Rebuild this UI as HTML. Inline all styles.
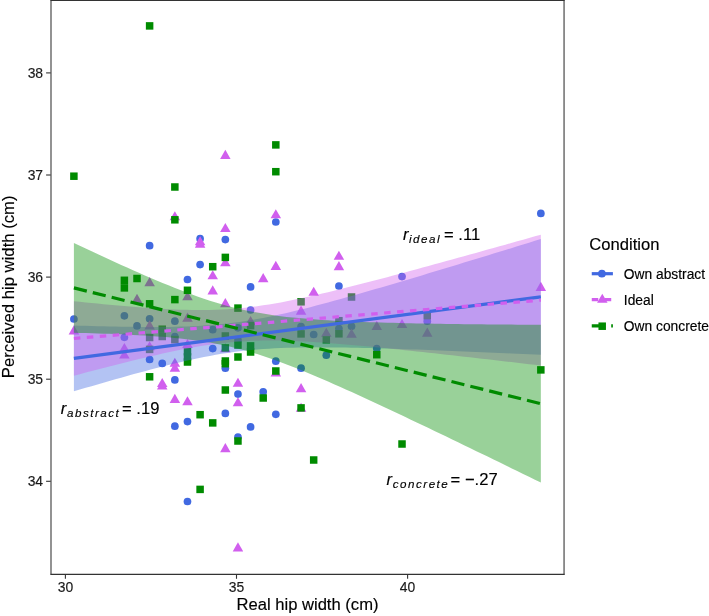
<!DOCTYPE html>
<html><head><meta charset="utf-8"><style>
html,body{margin:0;padding:0;background:#fff;}
svg{display:block;will-change:transform;}
text{font-family:"Liberation Sans",sans-serif;stroke:currentColor;stroke-width:0.15px;}
</style></head><body>
<svg width="709" height="616" viewBox="0 0 709 616">
<rect width="709" height="616" fill="#fff"/>
<defs><clipPath id="pc"><rect x="50.75" y="0" width="513.1" height="574.3"/></clipPath></defs>
<g clip-path="url(#pc)">
<circle cx="73.90" cy="319.00" r="3.85" fill="#4169E1"/>
<circle cx="124.38" cy="315.80" r="3.85" fill="#4169E1"/>
<circle cx="124.38" cy="337.30" r="3.85" fill="#4169E1"/>
<circle cx="137.00" cy="325.90" r="3.85" fill="#4169E1"/>
<circle cx="149.62" cy="245.70" r="3.85" fill="#4169E1"/>
<circle cx="149.62" cy="318.80" r="3.85" fill="#4169E1"/>
<circle cx="149.62" cy="359.50" r="3.85" fill="#4169E1"/>
<circle cx="162.24" cy="363.40" r="3.85" fill="#4169E1"/>
<circle cx="174.86" cy="321.20" r="3.85" fill="#4169E1"/>
<circle cx="174.86" cy="336.50" r="3.85" fill="#4169E1"/>
<circle cx="174.86" cy="379.90" r="3.85" fill="#4169E1"/>
<circle cx="174.86" cy="426.20" r="3.85" fill="#4169E1"/>
<circle cx="187.48" cy="279.50" r="3.85" fill="#4169E1"/>
<circle cx="187.48" cy="421.60" r="3.85" fill="#4169E1"/>
<circle cx="187.48" cy="501.50" r="3.85" fill="#4169E1"/>
<circle cx="200.10" cy="238.70" r="3.85" fill="#4169E1"/>
<circle cx="200.10" cy="264.60" r="3.85" fill="#4169E1"/>
<circle cx="212.72" cy="329.70" r="3.85" fill="#4169E1"/>
<circle cx="212.72" cy="348.60" r="3.85" fill="#4169E1"/>
<circle cx="225.34" cy="239.60" r="3.85" fill="#4169E1"/>
<circle cx="225.34" cy="368.20" r="3.85" fill="#4169E1"/>
<circle cx="225.34" cy="413.40" r="3.85" fill="#4169E1"/>
<circle cx="237.96" cy="327.80" r="3.85" fill="#4169E1"/>
<circle cx="237.96" cy="340.10" r="3.85" fill="#4169E1"/>
<circle cx="237.96" cy="394.10" r="3.85" fill="#4169E1"/>
<circle cx="237.96" cy="437.00" r="3.85" fill="#4169E1"/>
<circle cx="250.58" cy="286.90" r="3.85" fill="#4169E1"/>
<circle cx="250.58" cy="310.00" r="3.85" fill="#4169E1"/>
<circle cx="250.58" cy="426.90" r="3.85" fill="#4169E1"/>
<circle cx="263.20" cy="391.80" r="3.85" fill="#4169E1"/>
<circle cx="275.82" cy="222.00" r="3.85" fill="#4169E1"/>
<circle cx="275.82" cy="361.20" r="3.85" fill="#4169E1"/>
<circle cx="275.82" cy="414.30" r="3.85" fill="#4169E1"/>
<circle cx="301.06" cy="326.50" r="3.85" fill="#4169E1"/>
<circle cx="301.06" cy="368.20" r="3.85" fill="#4169E1"/>
<circle cx="313.68" cy="334.50" r="3.85" fill="#4169E1"/>
<circle cx="326.30" cy="355.20" r="3.85" fill="#4169E1"/>
<circle cx="338.92" cy="286.00" r="3.85" fill="#4169E1"/>
<circle cx="338.92" cy="328.50" r="3.85" fill="#4169E1"/>
<circle cx="351.54" cy="326.30" r="3.85" fill="#4169E1"/>
<circle cx="376.78" cy="348.60" r="3.85" fill="#4169E1"/>
<circle cx="402.02" cy="276.60" r="3.85" fill="#4169E1"/>
<circle cx="427.26" cy="321.20" r="3.85" fill="#4169E1"/>
<circle cx="540.84" cy="213.40" r="3.85" fill="#4169E1"/>
<polygon points="73.90,325.34 79.15,334.43 68.65,334.43" fill="#D15FEE"/>
<polygon points="124.38,342.94 129.63,352.03 119.13,352.03" fill="#D15FEE"/>
<polygon points="124.38,349.44 129.63,358.53 119.13,358.53" fill="#D15FEE"/>
<polygon points="137.00,293.84 142.25,302.93 131.75,302.93" fill="#D15FEE"/>
<polygon points="149.62,277.04 154.87,286.13 144.37,286.13" fill="#D15FEE"/>
<polygon points="149.62,320.34 154.87,329.43 144.37,329.43" fill="#D15FEE"/>
<polygon points="149.62,341.14 154.87,350.23 144.37,350.23" fill="#D15FEE"/>
<polygon points="162.24,377.94 167.49,387.03 156.99,387.03" fill="#D15FEE"/>
<polygon points="162.24,380.34 167.49,389.43 156.99,389.43" fill="#D15FEE"/>
<polygon points="174.86,211.24 180.11,220.33 169.61,220.33" fill="#D15FEE"/>
<polygon points="174.86,357.64 180.11,366.73 169.61,366.73" fill="#D15FEE"/>
<polygon points="174.86,362.54 180.11,371.63 169.61,371.63" fill="#D15FEE"/>
<polygon points="174.86,393.84 180.11,402.93 169.61,402.93" fill="#D15FEE"/>
<polygon points="187.48,291.14 192.73,300.23 182.23,300.23" fill="#D15FEE"/>
<polygon points="187.48,312.54 192.73,321.63 182.23,321.63" fill="#D15FEE"/>
<polygon points="187.48,338.94 192.73,348.03 182.23,348.03" fill="#D15FEE"/>
<polygon points="187.48,396.14 192.73,405.23 182.23,405.23" fill="#D15FEE"/>
<polygon points="200.10,236.24 205.35,245.33 194.85,245.33" fill="#D15FEE"/>
<polygon points="200.10,238.74 205.35,247.83 194.85,247.83" fill="#D15FEE"/>
<polygon points="212.72,270.24 217.97,279.33 207.47,279.33" fill="#D15FEE"/>
<polygon points="212.72,285.34 217.97,294.43 207.47,294.43" fill="#D15FEE"/>
<polygon points="225.34,149.84 230.59,158.93 220.09,158.93" fill="#D15FEE"/>
<polygon points="225.34,222.94 230.59,232.03 220.09,232.03" fill="#D15FEE"/>
<polygon points="225.34,257.14 230.59,266.23 220.09,266.23" fill="#D15FEE"/>
<polygon points="225.34,298.04 230.59,307.13 220.09,307.13" fill="#D15FEE"/>
<polygon points="225.34,343.14 230.59,352.23 220.09,352.23" fill="#D15FEE"/>
<polygon points="225.34,443.04 230.59,452.13 220.09,452.13" fill="#D15FEE"/>
<polygon points="237.96,377.74 243.21,386.83 232.71,386.83" fill="#D15FEE"/>
<polygon points="237.96,397.14 243.21,406.23 232.71,406.23" fill="#D15FEE"/>
<polygon points="237.96,542.34 243.21,551.43 232.71,551.43" fill="#D15FEE"/>
<polygon points="250.58,315.94 255.83,325.03 245.33,325.03" fill="#D15FEE"/>
<polygon points="263.20,273.04 268.45,282.13 257.95,282.13" fill="#D15FEE"/>
<polygon points="275.82,209.14 281.07,218.23 270.57,218.23" fill="#D15FEE"/>
<polygon points="275.82,260.84 281.07,269.93 270.57,269.93" fill="#D15FEE"/>
<polygon points="275.82,367.44 281.07,376.53 270.57,376.53" fill="#D15FEE"/>
<polygon points="301.06,305.54 306.31,314.63 295.81,314.63" fill="#D15FEE"/>
<polygon points="301.06,383.04 306.31,392.13 295.81,392.13" fill="#D15FEE"/>
<polygon points="301.06,402.74 306.31,411.83 295.81,411.83" fill="#D15FEE"/>
<polygon points="313.68,286.74 318.93,295.83 308.43,295.83" fill="#D15FEE"/>
<polygon points="326.30,327.64 331.55,336.73 321.05,336.73" fill="#D15FEE"/>
<polygon points="338.92,250.74 344.17,259.83 333.67,259.83" fill="#D15FEE"/>
<polygon points="338.92,261.04 344.17,270.13 333.67,270.13" fill="#D15FEE"/>
<polygon points="351.54,328.54 356.79,337.63 346.29,337.63" fill="#D15FEE"/>
<polygon points="376.78,320.84 382.03,329.93 371.53,329.93" fill="#D15FEE"/>
<polygon points="402.02,318.94 407.27,328.03 396.77,328.03" fill="#D15FEE"/>
<polygon points="427.26,327.54 432.51,336.63 422.01,336.63" fill="#D15FEE"/>
<polygon points="540.84,281.84 546.09,290.93 535.59,290.93" fill="#D15FEE"/>
<rect x="70.15" y="172.45" width="7.50" height="7.50" fill="#008B00"/>
<rect x="120.63" y="276.55" width="7.50" height="7.50" fill="#008B00"/>
<rect x="120.63" y="284.15" width="7.50" height="7.50" fill="#008B00"/>
<rect x="133.25" y="274.75" width="7.50" height="7.50" fill="#008B00"/>
<rect x="145.87" y="22.15" width="7.50" height="7.50" fill="#008B00"/>
<rect x="145.87" y="300.05" width="7.50" height="7.50" fill="#008B00"/>
<rect x="145.87" y="333.75" width="7.50" height="7.50" fill="#008B00"/>
<rect x="145.87" y="345.65" width="7.50" height="7.50" fill="#008B00"/>
<rect x="145.87" y="373.05" width="7.50" height="7.50" fill="#008B00"/>
<rect x="158.49" y="325.45" width="7.50" height="7.50" fill="#008B00"/>
<rect x="158.49" y="332.75" width="7.50" height="7.50" fill="#008B00"/>
<rect x="171.11" y="183.25" width="7.50" height="7.50" fill="#008B00"/>
<rect x="171.11" y="216.05" width="7.50" height="7.50" fill="#008B00"/>
<rect x="171.11" y="295.85" width="7.50" height="7.50" fill="#008B00"/>
<rect x="171.11" y="335.85" width="7.50" height="7.50" fill="#008B00"/>
<rect x="183.73" y="286.55" width="7.50" height="7.50" fill="#008B00"/>
<rect x="183.73" y="347.95" width="7.50" height="7.50" fill="#008B00"/>
<rect x="183.73" y="353.15" width="7.50" height="7.50" fill="#008B00"/>
<rect x="183.73" y="358.25" width="7.50" height="7.50" fill="#008B00"/>
<rect x="196.35" y="410.95" width="7.50" height="7.50" fill="#008B00"/>
<rect x="196.35" y="485.65" width="7.50" height="7.50" fill="#008B00"/>
<rect x="208.97" y="262.95" width="7.50" height="7.50" fill="#008B00"/>
<rect x="208.97" y="419.15" width="7.50" height="7.50" fill="#008B00"/>
<rect x="221.59" y="253.65" width="7.50" height="7.50" fill="#008B00"/>
<rect x="221.59" y="332.25" width="7.50" height="7.50" fill="#008B00"/>
<rect x="221.59" y="344.15" width="7.50" height="7.50" fill="#008B00"/>
<rect x="221.59" y="357.25" width="7.50" height="7.50" fill="#008B00"/>
<rect x="221.59" y="359.95" width="7.50" height="7.50" fill="#008B00"/>
<rect x="221.59" y="386.25" width="7.50" height="7.50" fill="#008B00"/>
<rect x="234.21" y="304.35" width="7.50" height="7.50" fill="#008B00"/>
<rect x="234.21" y="341.35" width="7.50" height="7.50" fill="#008B00"/>
<rect x="234.21" y="353.25" width="7.50" height="7.50" fill="#008B00"/>
<rect x="234.21" y="437.25" width="7.50" height="7.50" fill="#008B00"/>
<rect x="246.83" y="321.85" width="7.50" height="7.50" fill="#008B00"/>
<rect x="246.83" y="342.15" width="7.50" height="7.50" fill="#008B00"/>
<rect x="246.83" y="348.25" width="7.50" height="7.50" fill="#008B00"/>
<rect x="259.45" y="394.25" width="7.50" height="7.50" fill="#008B00"/>
<rect x="272.07" y="141.15" width="7.50" height="7.50" fill="#008B00"/>
<rect x="272.07" y="167.95" width="7.50" height="7.50" fill="#008B00"/>
<rect x="272.07" y="367.25" width="7.50" height="7.50" fill="#008B00"/>
<rect x="297.31" y="298.05" width="7.50" height="7.50" fill="#008B00"/>
<rect x="297.31" y="330.15" width="7.50" height="7.50" fill="#008B00"/>
<rect x="297.31" y="404.15" width="7.50" height="7.50" fill="#008B00"/>
<rect x="309.93" y="456.25" width="7.50" height="7.50" fill="#008B00"/>
<rect x="322.55" y="336.15" width="7.50" height="7.50" fill="#008B00"/>
<rect x="335.17" y="316.95" width="7.50" height="7.50" fill="#008B00"/>
<rect x="335.17" y="330.05" width="7.50" height="7.50" fill="#008B00"/>
<rect x="347.79" y="293.25" width="7.50" height="7.50" fill="#008B00"/>
<rect x="373.03" y="350.95" width="7.50" height="7.50" fill="#008B00"/>
<rect x="398.27" y="440.25" width="7.50" height="7.50" fill="#008B00"/>
<rect x="423.51" y="311.85" width="7.50" height="7.50" fill="#008B00"/>
<rect x="537.09" y="366.15" width="7.50" height="7.50" fill="#008B00"/>
<polygon points="73.90,325.47 79.81,325.65 85.72,325.83 91.63,326.00 97.54,326.16 103.45,326.31 109.36,326.45 115.28,326.58 121.19,326.69 127.10,326.79 133.01,326.87 138.92,326.93 144.83,326.97 150.74,326.99 156.65,326.98 162.56,326.95 168.47,326.88 174.38,326.77 180.29,326.62 186.20,326.43 192.12,326.19 198.03,325.89 203.94,325.54 209.85,325.11 215.76,324.62 221.67,324.06 227.58,323.42 233.49,322.70 239.40,321.90 245.31,321.03 251.22,320.07 257.13,319.04 263.04,317.94 268.96,316.77 274.87,315.54 280.78,314.26 286.69,312.92 292.60,311.53 298.51,310.10 304.42,308.63 310.33,307.13 316.24,305.59 322.15,304.03 328.06,302.44 333.97,300.84 339.88,299.21 345.79,297.56 351.71,295.90 357.62,294.22 363.53,292.53 369.44,290.83 375.35,289.12 381.26,287.40 387.17,285.66 393.08,283.93 398.99,282.18 404.90,280.42 410.81,278.67 416.72,276.90 422.63,275.13 428.55,273.35 434.46,271.57 440.37,269.79 446.28,268.00 452.19,266.21 458.10,264.42 464.01,262.62 469.92,260.82 475.83,259.01 481.74,257.21 487.65,255.40 493.56,253.59 499.47,251.78 505.39,249.96 511.30,248.15 517.21,246.33 523.12,244.51 529.03,242.69 534.94,240.86 540.85,239.04 540.85,354.77 534.94,354.50 529.03,354.23 523.12,353.97 517.21,353.71 511.30,353.44 505.39,353.18 499.47,352.93 493.56,352.67 487.65,352.42 481.74,352.17 475.83,351.92 469.92,351.67 464.01,351.43 458.10,351.19 452.19,350.95 446.28,350.71 440.37,350.48 434.46,350.26 428.55,350.03 422.63,349.81 416.72,349.60 410.81,349.39 404.90,349.19 398.99,348.99 393.08,348.80 387.17,348.62 381.26,348.45 375.35,348.28 369.44,348.12 363.53,347.98 357.62,347.85 351.71,347.73 345.79,347.62 339.88,347.53 333.97,347.46 328.06,347.41 322.15,347.38 316.24,347.37 310.33,347.40 304.42,347.45 298.51,347.54 292.60,347.67 286.69,347.84 280.78,348.05 274.87,348.32 268.96,348.65 263.04,349.04 257.13,349.49 251.22,350.02 245.31,350.62 239.40,351.30 233.49,352.06 227.58,352.90 221.67,353.82 215.76,354.81 209.85,355.88 203.94,357.01 198.03,358.21 192.12,359.47 186.20,360.79 180.29,362.15 174.38,363.56 168.47,365.01 162.56,366.50 156.65,368.02 150.74,369.57 144.83,371.14 138.92,372.74 133.01,374.36 127.10,376.00 121.19,377.65 115.28,379.32 109.36,381.01 103.45,382.70 97.54,384.41 91.63,386.13 85.72,387.85 79.81,389.59 73.90,391.33" fill="#4169E1" fill-opacity="0.4"/>
<polygon points="73.90,301.25 79.81,301.85 85.72,302.45 91.63,303.04 97.54,303.61 103.45,304.18 109.36,304.73 115.28,305.27 121.19,305.79 127.10,306.30 133.01,306.78 138.92,307.25 144.83,307.69 150.74,308.10 156.65,308.49 162.56,308.84 168.47,309.16 174.38,309.43 180.29,309.66 186.20,309.84 192.12,309.96 198.03,310.02 203.94,310.01 209.85,309.93 215.76,309.77 221.67,309.52 227.58,309.20 233.49,308.78 239.40,308.27 245.31,307.67 251.22,306.99 257.13,306.22 263.04,305.37 268.96,304.44 274.87,303.44 280.78,302.38 286.69,301.26 292.60,300.08 298.51,298.86 304.42,297.59 310.33,296.29 316.24,294.95 322.15,293.58 328.06,292.18 333.97,290.75 339.88,289.31 345.79,287.84 351.71,286.35 357.62,284.85 363.53,283.33 369.44,281.80 375.35,280.26 381.26,278.71 387.17,277.14 393.08,275.57 398.99,273.99 404.90,272.40 410.81,270.80 416.72,269.20 422.63,267.59 428.55,265.98 434.46,264.36 440.37,262.74 446.28,261.11 452.19,259.48 458.10,257.84 464.01,256.20 469.92,254.56 475.83,252.92 481.74,251.27 487.65,249.62 493.56,247.97 499.47,246.31 505.39,244.65 511.30,242.99 517.21,241.33 523.12,239.67 529.03,238.00 534.94,236.33 540.85,234.67 540.85,365.57 534.94,364.87 529.03,364.18 523.12,363.48 517.21,362.79 511.30,362.10 505.39,361.41 499.47,360.73 493.56,360.04 487.65,359.36 481.74,358.68 475.83,358.00 469.92,357.33 464.01,356.66 458.10,355.99 452.19,355.33 446.28,354.67 440.37,354.01 434.46,353.36 428.55,352.72 422.63,352.07 416.72,351.44 410.81,350.81 404.90,350.18 398.99,349.57 393.08,348.96 387.17,348.36 381.26,347.76 375.35,347.18 369.44,346.61 363.53,346.05 357.62,345.51 351.71,344.98 345.79,344.46 339.88,343.97 333.97,343.49 328.06,343.04 322.15,342.61 316.24,342.21 310.33,341.84 304.42,341.51 298.51,341.21 292.60,340.96 286.69,340.76 280.78,340.61 274.87,340.52 268.96,340.49 263.04,340.54 257.13,340.66 251.22,340.86 245.31,341.15 239.40,341.52 233.49,341.99 227.58,342.54 221.67,343.18 215.76,343.91 209.85,344.72 203.94,345.61 198.03,346.58 192.12,347.61 186.20,348.70 180.29,349.85 174.38,351.05 168.47,352.30 162.56,353.58 156.65,354.91 150.74,356.26 144.83,357.65 138.92,359.06 133.01,360.50 127.10,361.96 121.19,363.43 115.28,364.93 109.36,366.44 103.45,367.96 97.54,369.50 91.63,371.05 85.72,372.61 79.81,374.17 73.90,375.75" fill="#D15FEE" fill-opacity="0.4"/>
<polygon points="73.90,243.02 79.81,245.80 85.72,248.57 91.63,251.33 97.54,254.07 103.45,256.81 109.36,259.52 115.28,262.22 121.19,264.90 127.10,267.56 133.01,270.20 138.92,272.81 144.83,275.39 150.74,277.94 156.65,280.46 162.56,282.94 168.47,285.37 174.38,287.75 180.29,290.07 186.20,292.34 192.12,294.54 198.03,296.66 203.94,298.70 209.85,300.65 215.76,302.51 221.67,304.27 227.58,305.93 233.49,307.47 239.40,308.91 245.31,310.24 251.22,311.47 257.13,312.59 263.04,313.62 268.96,314.55 274.87,315.40 280.78,316.17 286.69,316.88 292.60,317.51 298.51,318.09 304.42,318.61 310.33,319.09 316.24,319.53 322.15,319.93 328.06,320.29 333.97,320.63 339.88,320.94 345.79,321.22 351.71,321.48 357.62,321.72 363.53,321.94 369.44,322.15 375.35,322.34 381.26,322.52 387.17,322.69 393.08,322.85 398.99,322.99 404.90,323.13 410.81,323.26 416.72,323.38 422.63,323.49 428.55,323.60 434.46,323.70 440.37,323.80 446.28,323.89 452.19,323.97 458.10,324.05 464.01,324.13 469.92,324.20 475.83,324.27 481.74,324.34 487.65,324.40 493.56,324.46 499.47,324.52 505.39,324.57 511.30,324.62 517.21,324.67 523.12,324.72 529.03,324.76 534.94,324.80 540.85,324.85 540.85,482.56 534.94,479.67 529.03,476.78 523.12,473.89 517.21,471.01 511.30,468.13 505.39,465.25 499.47,462.37 493.56,459.49 487.65,456.62 481.74,453.75 475.83,450.89 469.92,448.02 464.01,445.16 458.10,442.31 452.19,439.46 446.28,436.61 440.37,433.77 434.46,430.93 428.55,428.10 422.63,425.28 416.72,422.46 410.81,419.65 404.90,416.85 398.99,414.05 393.08,411.27 387.17,408.49 381.26,405.73 375.35,402.97 369.44,400.24 363.53,397.51 357.62,394.80 351.71,392.11 345.79,389.44 339.88,386.79 333.97,384.17 328.06,381.57 322.15,379.00 316.24,376.47 310.33,373.98 304.42,371.52 298.51,369.12 292.60,366.76 286.69,364.47 280.78,362.24 274.87,360.08 268.96,357.99 263.04,356.00 257.13,354.09 251.22,352.28 245.31,350.58 239.40,348.98 233.49,347.48 227.58,346.10 221.67,344.82 215.76,343.65 209.85,342.58 203.94,341.60 198.03,340.71 192.12,339.90 186.20,339.16 180.29,338.50 174.38,337.89 168.47,337.34 162.56,336.84 156.65,336.38 150.74,335.97 144.83,335.59 138.92,335.24 133.01,334.92 127.10,334.62 121.19,334.35 115.28,334.10 109.36,333.87 103.45,333.65 97.54,333.45 91.63,333.27 85.72,333.09 79.81,332.93 73.90,332.78" fill="#008B00" fill-opacity="0.4"/>
<line x1="73.9" y1="358.4" x2="540.85" y2="296.90" stroke="#4169E1" stroke-width="3.2"/>
<line x1="73.9" y1="338.5" x2="540.85" y2="300.12" stroke="#D15FEE" stroke-width="3.2" stroke-dasharray="6.5 6.47"/>
<line x1="73.9" y1="287.9" x2="540.85" y2="403.70" stroke="#008B00" stroke-width="3.2" stroke-dasharray="13.3 6.15"/>
</g>
<g stroke="#333" stroke-width="1.07" fill="none">
<line x1="51.0" y1="0" x2="51.0" y2="574.8"/>
<line x1="50.5" y1="574.35" x2="564.6" y2="574.35"/>
<line x1="564.05" y1="0" x2="564.05" y2="574.8"/>
<line x1="50.5" y1="0.45" x2="564.6" y2="0.45"/>
</g>
<g stroke="#333" stroke-width="1.1">
<line x1="46.1" y1="72.9" x2="50.75" y2="72.9"/>
<line x1="46.1" y1="175.0" x2="50.75" y2="175.0"/>
<line x1="46.1" y1="277.1" x2="50.75" y2="277.1"/>
<line x1="46.1" y1="379.2" x2="50.75" y2="379.2"/>
<line x1="46.1" y1="481.3" x2="50.75" y2="481.3"/>
<line x1="65.4" y1="574.3" x2="65.4" y2="578.8"/>
<line x1="236.5" y1="574.3" x2="236.5" y2="578.8"/>
<line x1="407.6" y1="574.3" x2="407.6" y2="578.8"/>
</g>
<g font-size="13.9" fill="#1a1a1a" color="#1a1a1a" text-anchor="end">
<text x="43.1" y="77.9">38</text>
<text x="43.1" y="180.0">37</text>
<text x="43.1" y="282.1">36</text>
<text x="43.1" y="384.2">35</text>
<text x="43.1" y="486.3">34</text>
</g>
<g font-size="13.9" fill="#1a1a1a" color="#1a1a1a" text-anchor="middle">
<text x="65.4" y="592.2">30</text>
<text x="236.5" y="592.2">35</text>
<text x="407.6" y="592.2">40</text>
</g>
<text x="307.5" y="610.4" font-size="16.6" text-anchor="middle" fill="#000">Real hip width (cm)</text>
<text transform="translate(14.2,286.8) rotate(-90)" font-size="16.7" text-anchor="middle" fill="#000">Perceived hip width (cm)</text>
<!-- r labels -->
<g font-size="16.6" fill="#000">
<text x="402.9" y="240" font-style="italic">r</text>
<text x="409.0" y="243.3" font-style="italic" font-size="11.6" letter-spacing="1.5">ideal</text>
<text x="444" y="240">= .11</text>
<text x="60.8" y="414" font-style="italic">r</text>
<text x="67" y="417.3" font-style="italic" font-size="11.6" letter-spacing="1.5">abstract</text>
<text x="122" y="414">= .19</text>
<text x="386.6" y="484.8" font-style="italic">r</text>
<text x="392.8" y="488.1" font-style="italic" font-size="11.6" letter-spacing="1.5">concrete</text>
<text x="450.6" y="484.8">= −.27</text>
</g>
<!-- legend -->
<text x="589.3" y="249.9" font-size="16.6" fill="#000">Condition</text>
<g stroke-width="3.2">
<line x1="591.75" y1="273.7" x2="612.9" y2="273.7" stroke="#4169E1"/>
<line x1="591.75" y1="299.7" x2="612.9" y2="299.7" stroke="#D15FEE" stroke-dasharray="6.5 6.47"/>
<line x1="591.75" y1="325.9" x2="612.9" y2="325.9" stroke="#008B00" stroke-dasharray="13.3 6.15"/>
</g>
<circle cx="601.90" cy="273.70" r="3.85" fill="#4169E1"/>
<polygon points="602.30,293.64 607.55,302.73 597.05,302.73" fill="#D15FEE"/>
<rect x="598.45" y="322.45" width="7.50" height="7.50" fill="#008B00"/>
<g font-size="13.8" fill="#000">
<text x="623.8" y="278.7">Own abstract</text>
<text x="623.8" y="304.7">Ideal</text>
<text x="623.8" y="330.9">Own concrete</text>
</g>
</svg>
</body></html>
